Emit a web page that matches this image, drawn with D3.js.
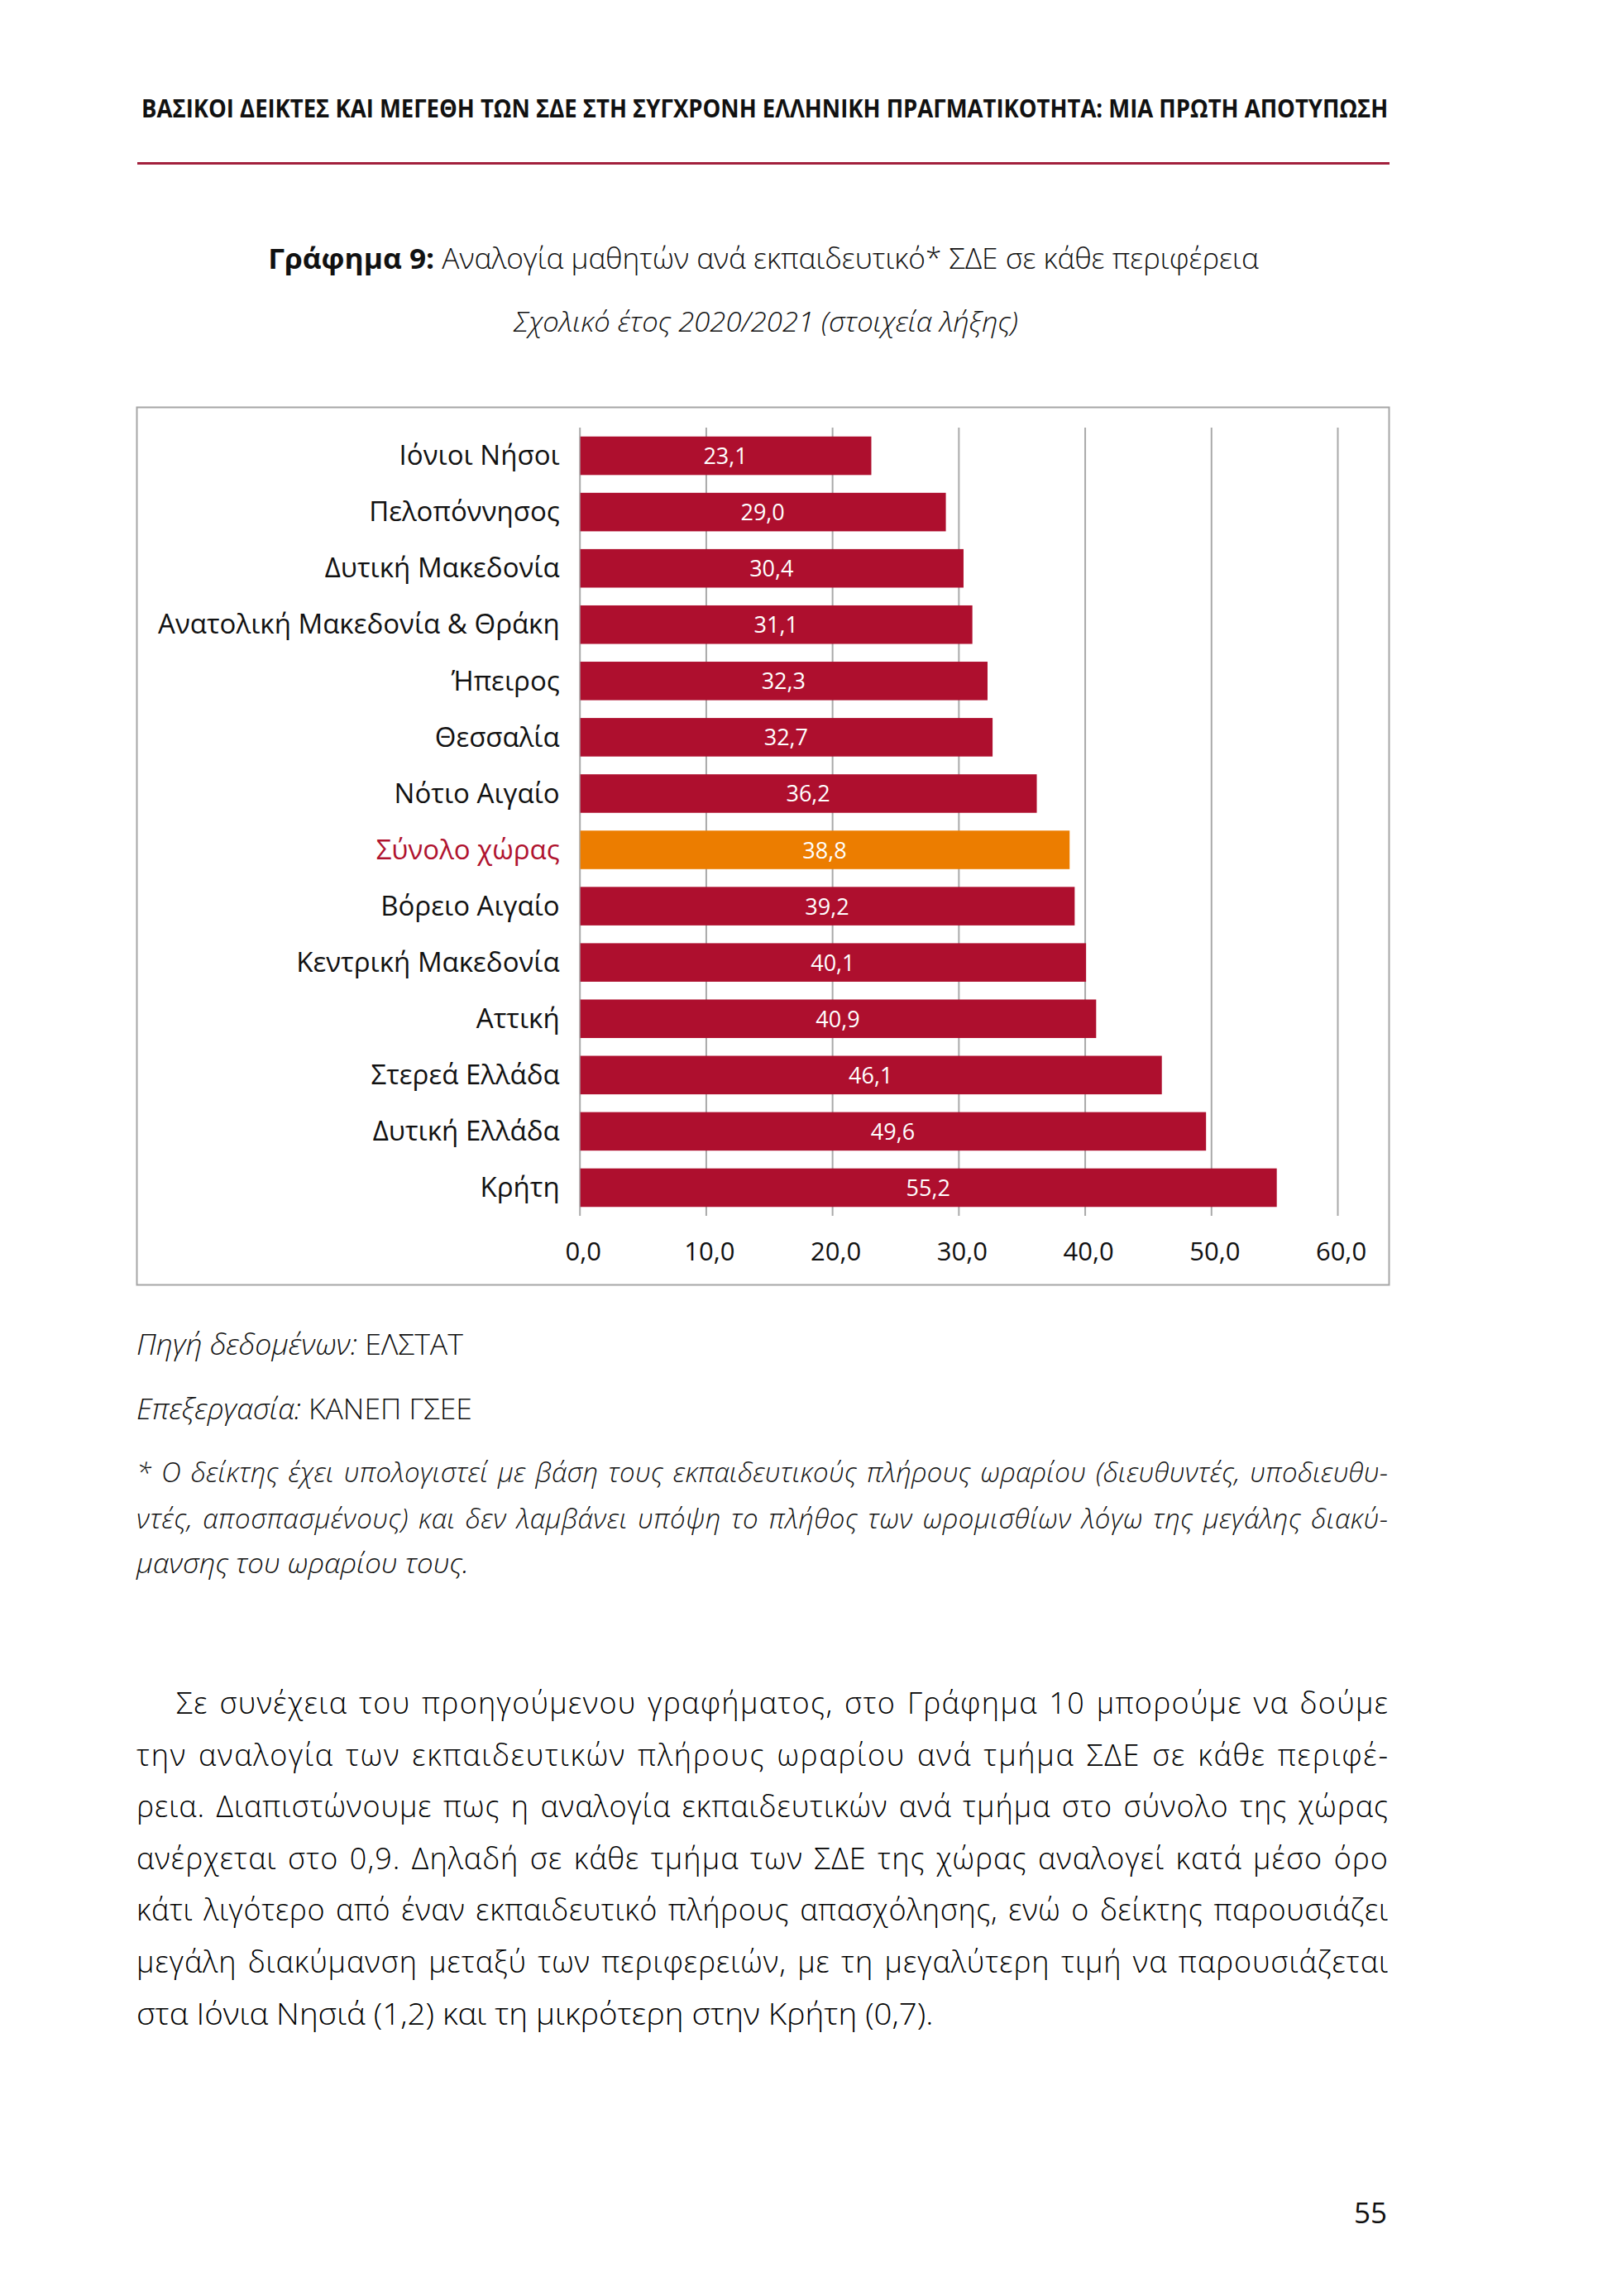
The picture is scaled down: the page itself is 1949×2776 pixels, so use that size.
<!DOCTYPE html>
<html>
<head>
<meta charset="utf-8">
<script src="https://cdn.jsdelivr.net/npm/d3@7"></script>
<style>
  html, body { margin: 0; padding: 0; background: #ffffff; }
  svg { display: block; }
  text { font-family: "Open Sans", "Noto Sans", "DejaVu Sans", sans-serif; }
</style>
</head>
<body>
<script>
// ---------------- DATA ----------------
const categories = [
  "Ιόνιοι Νήσοι", "Πελοπόννησος", "Δυτική Μακεδονία", "Ανατολική Μακεδονία & Θράκη",
  "Ήπειρος", "Θεσσαλία", "Νότιο Αιγαίο", "Σύνολο χώρας", "Βόρειο Αιγαίο",
  "Κεντρική Μακεδονία", "Αττική", "Στερεά Ελλάδα", "Δυτική Ελλάδα", "Κρήτη"
];
const values = [23.1, 29.0, 30.4, 31.1, 32.3, 32.7, 36.2, 38.8, 39.2, 40.1, 40.9, 46.1, 49.6, 55.2];
const highlightCategory = "Σύνολο χώρας";
const tickValues = [0, 10, 20, 30, 40, 50, 60];
const xDomain = [0, 60];

const headerText = "ΒΑΣΙΚΟΙ ΔΕΙΚΤΕΣ ΚΑΙ ΜΕΓΕΘΗ ΤΩΝ ΣΔΕ ΣΤΗ ΣΥΓΧΡΟΝΗ ΕΛΛΗΝΙΚΗ ΠΡΑΓΜΑΤΙΚΟΤΗΤΑ: ΜΙΑ ΠΡΩΤΗ ΑΠΟΤΥΠΩΣΗ";
const titleBold = "Γράφημα 9:";
const titleRest = " Αναλογία μαθητών ανά εκπαιδευτικό* ΣΔΕ σε κάθε περιφέρεια";
const subtitleText = "Σχολικό έτος 2020/2021 (στοιχεία λήξης)";
const sourceLines = [
  ["Πηγή δεδομένων:", " ΕΛΣΤΑΤ"],
  ["Επεξεργασία:", " ΚΑΝΕΠ ΓΣΕΕ"]
];
const footnoteLines = [
  "* Ο δείκτης έχει υπολογιστεί με βάση τους εκπαιδευτικούς πλήρους ωραρίου (διευθυντές, υποδιευθυ-",
  "ντές, αποσπασμένους) και δεν λαμβάνει υπόψη το πλήθος των ωρομισθίων λόγω της μεγάλης διακύ-",
  "μανσης του ωραρίου τους."
];
const bodyLines = [
  "Σε συνέχεια του προηγούμενου γραφήματος, στο Γράφημα 10 μπορούμε να δούμε",
  "την αναλογία των εκπαιδευτικών πλήρους ωραρίου ανά τμήμα ΣΔΕ σε κάθε περιφέ-",
  "ρεια. Διαπιστώνουμε πως η αναλογία εκπαιδευτικών ανά τμήμα στο σύνολο της χώρας",
  "ανέρχεται στο 0,9. Δηλαδή σε κάθε τμήμα των ΣΔΕ της χώρας αναλογεί κατά μέσο όρο",
  "κάτι λιγότερο από έναν εκπαιδευτικό πλήρους απασχόλησης, ενώ ο δείκτης παρουσιάζει",
  "μεγάλη διακύμανση μεταξύ των περιφερειών, με τη μεγαλύτερη τιμή να παρουσιάζεται",
  "στα Ιόνια Νησιά (1,2) και τη μικρότερη στην Κρήτη (0,7)."
];
const pageNumber = "55";

// ---------------- LAYOUT ----------------
const W = 1949, H = 2776;
const RED = "#AE0F2E", ORANGE = "#EC7D00", GRID = "#A9A9A9";
const svg = d3.select("body").append("svg").attr("width", W).attr("height", H);
svg.append("rect").attr("width", W).attr("height", H).attr("fill", "#fff");

const grLocale = d3.formatLocale({decimal: ",", thousands: ".", grouping: [3], currency: ["", "€"]});
const fmt1 = grLocale.format(".1f");

function fitWidth(sel, anchorX, target) {
  const w = sel.node().getComputedTextLength();
  if (w > 0) {
    const sx = target / w;
    sel.attr("transform", `translate(${anchorX},0) scale(${sx},1) translate(${-anchorX},0)`);
  }
}
function justify(sel, x0, x1) {
  const n = sel.node();
  const w = n.getComputedTextLength();
  const target = x1 - x0;
  const spaces = (n.textContent.match(/ /g) || []).length;
  const extra = target - w;
  if (extra > 0 && spaces > 0) {
    const ws = Math.min(extra / spaces, 3);
    sel.attr("word-spacing", ws);
  }
  sel.attr("textLength", target).attr("lengthAdjust", extra > 0 ? "spacing" : "spacingAndGlyphs");
}

// Header
const hdr = svg.append("text").attr("x", 171).attr("y", 142)
  .attr("font-size", 30).attr("font-weight", 700).attr("fill", "#111").text(headerText);
fitWidth(hdr, 171, 1508);
svg.append("line").attr("x1", 166).attr("x2", 1680).attr("y1", 197.5).attr("y2", 197.5)
  .attr("stroke", "#A2203C").attr("stroke-width", 3);

// Title
const title = svg.append("text").attr("x", 923).attr("y", 325).attr("text-anchor", "middle")
  .attr("font-size", 34).attr("fill", "#111");
title.append("tspan").attr("font-weight", 700).text(titleBold);
title.append("tspan").attr("font-weight", 300).text(titleRest);
fitWidth(title, 923, 1198);

const sub = svg.append("text").attr("x", 926).attr("y", 401).attr("text-anchor", "middle")
  .attr("font-size", 33).attr("font-style", "italic").attr("font-weight", 300)
  .attr("fill", "#111").text(subtitleText);
fitWidth(sub, 926, 610);

// Chart frame
svg.append("rect").attr("x", 165.5).attr("y", 492.5).attr("width", 1514).attr("height", 1061)
  .attr("fill", "none").attr("stroke", "#A6A6A6").attr("stroke-width", 2);

const x = d3.scaleLinear().domain(xDomain).range([700.7, 1617]);
const y = d3.scaleBand().domain(categories).range([517, 1470])
  .paddingInner(0.316).paddingOuter(0.158);

// Gridlines via axis
const gridAxis = d3.axisBottom(x).tickValues(tickValues).tickSize(-(1470 - 517)).tickFormat("");
const gg = svg.append("g").attr("transform", "translate(0,1470)").call(gridAxis);
gg.select(".domain").remove();
gg.selectAll(".tick line").attr("stroke", GRID).attr("stroke-width", 2);

// Bars
svg.append("g").selectAll("rect").data(categories).join("rect")
  .attr("x", x(0) + 1)
  .attr("y", d => y(d))
  .attr("width", (d, i) => x(values[i]) - x(0) - 1)
  .attr("height", y.bandwidth())
  .attr("fill", d => d === highlightCategory ? ORANGE : RED);

// Value labels
svg.append("g").selectAll("text").data(categories).join("text")
  .attr("x", (d, i) => (x(0) + x(values[i])) / 2)
  .attr("y", d => y(d) + y.bandwidth() / 2)
  .attr("dy", "0.37em")
  .attr("text-anchor", "middle")
  .attr("font-size", 27)
  .attr("fill", "#ffffff")
  .text((d, i) => fmt1(values[i]));

// Category axis
const yAxis = d3.axisLeft(y).tickSize(0).tickPadding(24);
const ya = svg.append("g").attr("transform", `translate(${x(0)},0)`).call(yAxis);
ya.select(".domain").remove();
ya.selectAll(".tick text")
  .attr("font-size", 33)
  .attr("font-family", '"Open Sans", "Noto Sans", sans-serif')
  .attr("fill", d => d === highlightCategory ? "#B0132F" : "#111")
  .attr("dy", "0.34em");

// X tick labels
const xAxis = d3.axisBottom(x).tickValues(tickValues).tickSize(0).tickPadding(0).tickFormat(fmt1);
const xa = svg.append("g").attr("transform", "translate(4,1524)").call(xAxis);
xa.select(".domain").remove();
xa.selectAll(".tick text").attr("font-size", 31).attr("fill", "#111")
  .attr("font-family", '"Open Sans", "Noto Sans", sans-serif').attr("dy", 0).attr("y", 0);

// Sources
const srcY = [1638, 1716];
const srcW = [395, 406];
sourceLines.forEach((parts, i) => {
  const t = svg.append("text").attr("x", 165).attr("y", srcY[i]).attr("font-size", 34)
    .attr("font-weight", 300).attr("fill", "#111");
  t.append("tspan").attr("font-style", "italic").text(parts[0]);
  t.append("tspan").text(parts[1]);
  fitWidth(t, 165, srcW[i]);
});

// Footnote
const fnY = [1792, 1848, 1902];
footnoteLines.forEach((line, i) => {
  const t = svg.append("text").attr("x", 165).attr("y", fnY[i]).attr("font-size", 33)
    .attr("font-style", "italic").attr("font-weight", 300).attr("fill", "#111").text(line);
  if (i < 2) justify(t, 165, 1678); else fitWidth(t, 165, 402);
});

// Body paragraph
bodyLines.forEach((line, i) => {
  const x0 = i === 0 ? 213 : 165;
  const t = svg.append("text").attr("x", x0).attr("y", 2072 + i * 62.6).attr("font-size", 36)
    .attr("font-weight", 300).attr("fill", "#000").text(line);
  if (i < bodyLines.length - 1) justify(t, x0, 1678); else fitWidth(t, 165, 964);
});

// Page number
svg.append("text").attr("x", 1677).attr("y", 2688).attr("text-anchor", "end")
  .attr("font-size", 35).attr("fill", "#111").text(pageNumber);
</script>
</body>
</html>
